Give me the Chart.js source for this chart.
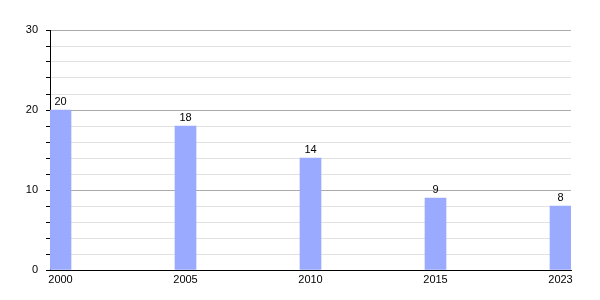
<!DOCTYPE html>
<html>
<head>
    <script src="https://cdn.jsdelivr.net/npm/chart.js"></script>
    <style>
        body { margin: 0; background: white; }
        #wrap { width: 600px; height: 300px; }
    </style>
</head>
<body>
    <div id="wrap"><canvas id="myChart"></canvas></div>
    <script>
        const years = ['2000', '2005', '2010', '2015', '2023'];
        const values = [20, 18, 14, 9, 8];
        const barColor = '#99aaff';

        // labels above the bars
        const valueLabels = {
            id: 'valueLabels',
            afterDatasetsDraw(chart) {
                const ctx = chart.ctx;
                ctx.save();
                ctx.font = '11px "Liberation Sans", Arial, sans-serif';
                ctx.fillStyle = '#000';
                ctx.textAlign = 'center';
                ctx.textBaseline = 'bottom';
                chart.getDatasetMeta(0).data.forEach((bar, i) => {
                    ctx.fillText(values[i], bar.x, bar.y - 3);
                });
                ctx.restore();
            }
        };

        Chart.defaults.font.family = '"Liberation Sans", Arial, sans-serif';
        Chart.defaults.font.size = 11;
        Chart.defaults.color = '#000';

        new Chart('myChart', {
            type: 'bar',
            data: {
                datasets: [{
                    data: years.map((y, i) => ({ x: i, y: values[i] })),
                    backgroundColor: barColor,
                    barThickness: 21
                }]
            },
            options: {
                responsive: true,
                maintainAspectRatio: false,
                animation: false,
                layout: { padding: { top: 30, right: 29, left: 0, bottom: 0 } },
                plugins: { legend: { display: false }, tooltip: { enabled: false } },
                scales: {
                    x: {
                        type: 'linear',
                        offset: false,
                        min: -0.084,
                        max: 4.084,
                        afterBuildTicks: (scale) => { scale.ticks = years.map((y, i) => ({ value: i })); },
                        ticks: { callback: (v) => years[v], padding: 3, maxRotation: 0 },
                        grid: { display: false, drawTicks: false },
                        border: { color: '#000' },
                        afterFit: (scale) => { scale.height = 30; }
                    },
                    y: {
                        min: 0,
                        max: 30,
                        ticks: {
                            stepSize: 2,
                            autoSkip: false,
                            callback: (v) => (v % 10 === 0 ? v : ''),
                            padding: 8
                        },
                        grid: {
                            color: (c) => (c.tick && c.tick.value % 10 === 0 ? '#aaaaaa' : '#e2e2e2'),
                            tickColor: '#000',
                            tickLength: 4
                        },
                        border: { color: '#000' },
                        afterFit: (scale) => { scale.width = 50; }
                    }
                }
            },
            plugins: [valueLabels]
        });
    </script>
</body>
</html>
